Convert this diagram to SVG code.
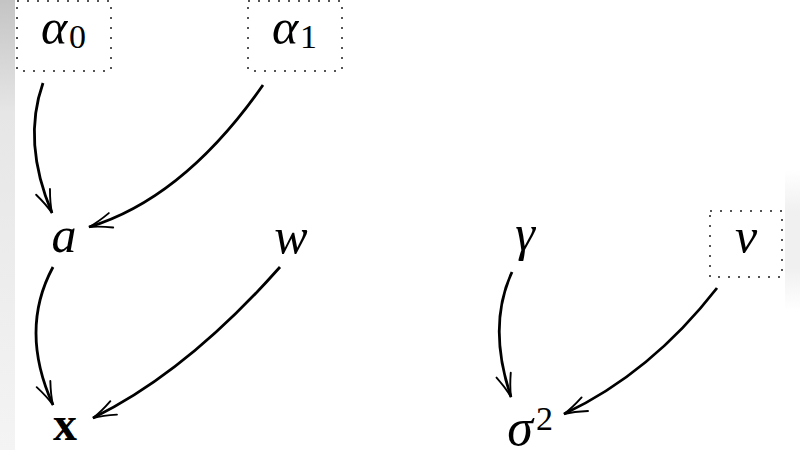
<svg xmlns="http://www.w3.org/2000/svg" width="800" height="450" viewBox="0 0 800 450">
<defs>
<linearGradient id="lg" x1="0" y1="0" x2="0" y2="1">
<stop offset="0" stop-color="#c4c4c4"/>
<stop offset="0.25" stop-color="#e6e6e6"/>
<stop offset="1" stop-color="#f4f4f4"/>
</linearGradient>
<linearGradient id="rg" x1="0" y1="0" x2="0" y2="1">
<stop offset="0" stop-color="#ffffff"/>
<stop offset="0.3" stop-color="#f0f0f0"/>
<stop offset="0.7" stop-color="#f0f0f0"/>
<stop offset="1" stop-color="#ffffff"/>
</linearGradient>
<marker id="arr" markerUnits="userSpaceOnUse" markerWidth="30" markerHeight="30" viewBox="-26 -13 30 26" refX="0" refY="0" orient="auto">
<path d="M -23 -7.5 Q -10 -2 0 0 Q -10 2 -23 7.5" fill="none" stroke="#000" stroke-width="1.9" stroke-linecap="round"/>
</marker>
</defs>
<style>
.m{font-family:"Liberation Serif","DejaVu Serif",serif;font-style:italic;font-size:50px;fill:#000;text-anchor:middle}
.s{font-family:"Liberation Serif","DejaVu Serif",serif;font-size:34px;fill:#000}
.b{font-family:"Liberation Serif","DejaVu Serif",serif;font-weight:bold;font-size:48px;fill:#000;text-anchor:middle}
.box{fill:none;stroke:#555;stroke-width:2;stroke-dasharray:2 8}
.e{fill:none;stroke:#000;stroke-width:2.8;marker-end:url(#arr)}
</style>
<rect width="800" height="450" fill="#fff"/>
<rect x="0" y="0" width="15" height="450" fill="url(#lg)"/>
<rect x="785" y="170" width="15" height="140" fill="url(#rg)"/>
<g id="alpha0">
<rect class="box" x="17" y="1" width="94" height="70"/>
<text class="m" x="54" y="44">α</text>
<text class="s" x="69" y="48">0</text>
</g>
<g id="alpha1">
<rect class="box" x="248" y="1" width="94" height="70"/>
<text class="m" x="285" y="44">α</text>
<text class="s" x="300" y="48">1</text>
</g>
<g id="a"><text class="m" x="64" y="252">a</text></g>
<g id="w"><text class="m" x="291" y="253">w</text></g>
<g id="gamma"><text class="m" x="525" y="250">γ</text></g>
<g id="nu">
<rect class="box" x="710" y="211" width="72" height="66"/>
<text class="m" x="746" y="253">ν</text>
</g>
<g id="x"><text class="b" x="65" y="440">x</text></g>
<g id="sigma2">
<text class="m" x="520" y="445" style="font-size:52px">σ</text>
<text class="s" x="536" y="430">2</text>
</g>
<g id="connectors">
<path class="e" d="M 43 83 Q 22 142 52 213"/>
<path class="e" d="M 263 85 Q 184 198 89 227"/>
<path class="e" d="M 53 267 Q 19 330 53 405"/>
<path class="e" d="M 280 267 Q 187 372 93 418"/>
<path class="e" d="M 512 272 Q 487 326 511 397"/>
<path class="e" d="M 717 288 Q 651 373 564 414"/>
</g>
</svg>
